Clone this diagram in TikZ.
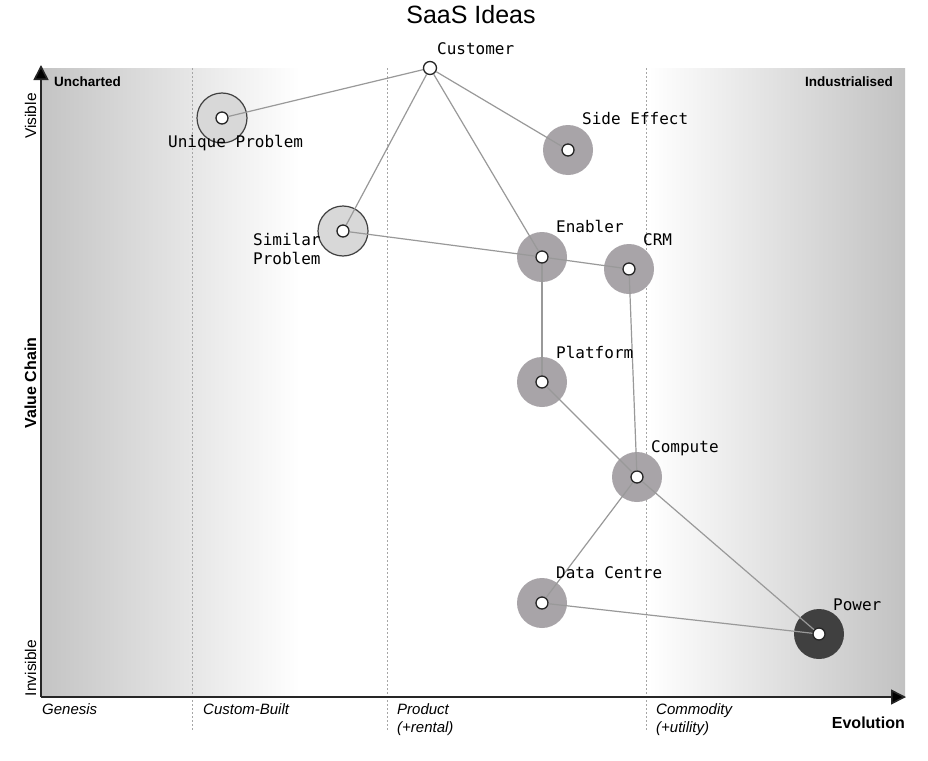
\documentclass[tikz,border=0pt]{standalone}
\usepackage{fontspec}
\setmainfont{Liberation Sans}
\newfontfamily\monof{DejaVu Sans Mono}
\usetikzlibrary{arrows.meta}
\definecolor{compgray}{HTML}{A8A4A8}
\definecolor{lightcomp}{HTML}{D8D8D8}
\definecolor{darkcomp}{HTML}{404040}
\definecolor{edgegray}{HTML}{999999}
\definecolor{leftgray}{HTML}{C4C4C4}
\definecolor{rightgray}{HTML}{C2C2C2}
\begin{document}
\begin{tikzpicture}[x=1pt,y=-1pt,
  outerc/.style={circle,minimum size=50pt,inner sep=0pt,fill=compgray},
  outerlight/.style={circle,minimum size=50pt,inner sep=0pt,fill=lightcomp,draw=black!75,line width=1.2pt},
  outerdark/.style={circle,minimum size=50pt,inner sep=0pt,fill=darkcomp},
  innerc/.style={circle,minimum size=12pt,inner sep=0pt,fill=white,draw=black!85,line width=1.3pt},
  lbl/.style={anchor=base west,inner sep=0pt,font=\monof\fontsize{16}{19}\selectfont},
  edge/.style={draw=edgegray,line width=1.2pt},
  stage/.style={draw=black!35,line width=0.7pt,dash pattern=on 2pt off 2pt},
  stagelbl/.style={anchor=base west,inner sep=0pt,align=left,font=\fontsize{15}{18}\selectfont\itshape},
  corner/.style={inner sep=0pt,font=\fontsize{13.5}{16}\selectfont\bfseries},
  axis/.style={black!85,line width=1.6pt,-{Triangle[length=15pt,width=15pt,fill=black]}}
]
\useasboundingbox (0,0) rectangle (928,760);
\fill[white] (0,0) rectangle (928,760);
% background shading
\shade[left color=leftgray,right color=white] (41,68) rectangle (300,697);
\shade[left color=white,right color=rightgray] (648,68) rectangle (905,697);
% stage lines
\draw[stage] (192,68) -- (192,730);
\draw[stage] (387,68) -- (387,730);
\draw[stage] (646,68) -- (646,730);
% axes
\coordinate (origin) at (41,697);
\coordinate (ytop) at (41,65);
\coordinate (xend) at (906,697);
\draw[axis] (origin) -- (ytop);
\draw[axis] (origin) -- (xend);
% title
\node (title) [anchor=base,inner sep=0pt,font=\fontsize{25}{28}\selectfont] at (471,24) {SaaS Ideas};
% corner labels
\node (unch) [corner,anchor=base west] at (54,86) {Uncharted};
\node (indu) [corner,anchor=base east] at (893,86) {Industrialised};
% y labels
\node (vis) [rotate=90,anchor=base,inner sep=0pt,font=\fontsize{15.5}{18}\selectfont] at (36,116) {Visible};
\node (invis) [rotate=90,anchor=base,inner sep=0pt,font=\fontsize{15.5}{18}\selectfont] at (36,668) {Invisible};
\node (vchain) [rotate=90,anchor=base,inner sep=0pt,font=\fontsize{16}{18}\selectfont\bfseries] at (36,383) {Value Chain};
% x labels
\node (gen) [stagelbl] at (42,714) {Genesis};
\node (cust) [stagelbl] at (203,714) {Custom-Built};
\node (prod) [stagelbl] at (397,732) {Product\\(+rental)};
\node (comm) [stagelbl] at (656,732) {Commodity\\(+utility)};
\node (evo) [anchor=base east,inner sep=0pt,font=\fontsize{16}{18}\selectfont\bfseries] at (905,728) {Evolution};
% outer circles
\node (upo) [outerlight] at (222,118) {};
\node (spo) [outerlight] at (343,231) {};
\node (seo) [outerc] at (568,150) {};
\node (eno) [outerc] at (542,257) {};
\node (crmo) [outerc] at (629,269) {};
\node (plo) [outerc] at (542,382) {};
\node (coo) [outerc] at (637,477) {};
\node (dco) [outerc] at (542,603) {};
\node (pwo) [outerdark] at (819,634) {};
% inner circles
\node (customer) [innerc,minimum size=13pt] at (430,68) {};
\node (up) [innerc] at (222,118) {};
\node (sp) [innerc] at (343,231) {};
\node (se) [innerc] at (568,150) {};
\node (en) [innerc] at (542,257) {};
\node (crm) [innerc] at (629,269) {};
\node (pl) [innerc] at (542,382) {};
\node (co) [innerc] at (637,477) {};
\node (dc) [innerc] at (542,603) {};
\node (pw) [innerc] at (819,634) {};
% edges
\draw[edge] (customer) -- (up);
\draw[edge] (customer) -- (sp);
\draw[edge] (customer) -- (en);
\draw[edge] (customer) -- (se);
\draw[edge] (sp) -- (en);
\draw[edge] (en) -- (crm);
\draw[edge] (en) -- (pl);
\draw[edge] (crm) -- (co);
\draw[edge] (pl) -- (co);
\draw[edge] (co) -- (dc);
\draw[edge] (co) -- (pw);
\draw[edge] (dc) -- (pw);
% labels
\node (lcustomer) [lbl] at (437,55) {Customer};
\node (lup) [lbl] at (168,147) {Unique Problem};
\node (lse) [lbl] at (582,124) {Side Effect};
\node (lsp) [lbl,align=left] at (253,264) {Similar\\Problem};
\node (len) [lbl] at (556,232) {Enabler};
\node (lcrm) [lbl] at (643,245) {CRM};
\node (lpl) [lbl] at (556,358) {Platform};
\node (lco) [lbl] at (651,452) {Compute};
\node (ldc) [lbl] at (556,578) {Data Centre};
\node (lpw) [lbl] at (833,610) {Power};
\end{tikzpicture}
\end{document}
